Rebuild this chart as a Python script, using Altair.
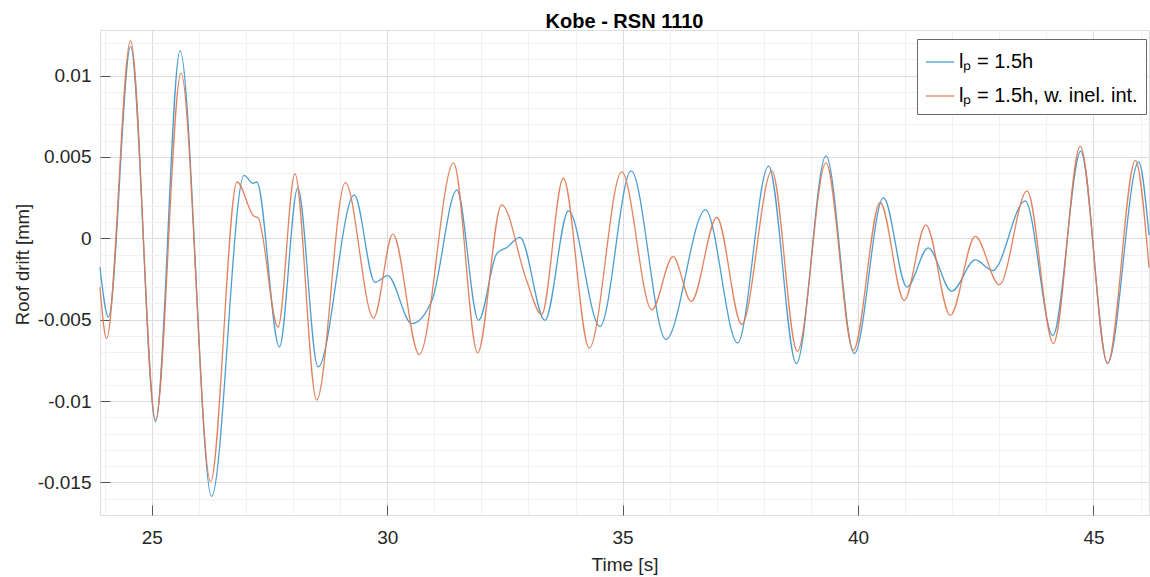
import altair as alt
import pandas as pd

# ---- data ----
series_names = ["lₚ = 1.5h", "lₚ = 1.5h, w. inel. int."]

blue_t = [23.90, 24.08, 24.55, 25.08, 25.60, 26.27, 26.96, 27.15, 27.23, 27.71,
          28.10, 28.53, 29.30, 29.74, 30.01, 30.52, 30.95, 31.48, 31.94, 32.33,
          32.54, 32.82, 33.35, 33.85, 34.52, 35.18, 35.92, 36.76, 37.44, 38.10,
          38.69, 39.32, 39.92, 40.54, 41.04, 41.49, 41.99, 42.49, 42.86, 43.55,
          44.14, 44.73, 45.30, 45.96, 46.18]
blue_y = [-0.00178, -0.00484, 0.01179, -0.01127, 0.01152, -0.01586, 0.00387, 0.00338, 0.00346, -0.00668,
          0.00308, -0.00790, 0.00267, -0.00270, -0.00229, -0.00524, -0.00382, 0.00296, -0.00504, -0.00092,
          -0.00056, 0.00006, -0.00504, 0.00169, -0.00541, 0.00414, -0.00621, 0.00175, -0.00643, 0.00444,
          -0.00769, 0.00506, -0.00708, 0.00250, -0.00300, -0.00059, -0.00325, -0.00133, -0.00198, 0.00230,
          -0.00596, 0.00536, -0.00769, 0.00469, 0.00020]

red_t = [23.90, 24.04, 24.55, 25.08, 25.62, 26.25, 26.81, 27.16, 27.26, 27.68,
         28.04, 28.50, 29.11, 29.71, 30.12, 30.68, 31.41, 31.92, 32.43, 32.96,
         33.28, 33.74, 34.29, 34.98, 35.62, 36.07, 36.46, 37.00, 37.53, 38.17,
         38.71, 39.32, 39.90, 40.47, 40.98, 41.44, 41.96, 42.49, 43.00, 43.59,
         44.15, 44.72, 45.30, 45.89, 46.18]
red_y = [-0.00300, -0.00616, 0.01214, -0.01116, 0.01015, -0.01494, 0.00346, 0.00138, 0.00124, -0.00545,
         0.00397, -0.00994, 0.00342, -0.00490, 0.00026, -0.00714, 0.00464, -0.00704, 0.00206, -0.00259,
         -0.00468, 0.00369, -0.00674, 0.00408, -0.00439, -0.00113, -0.00388, 0.00128, -0.00529, 0.00414,
         -0.00694, 0.00464, -0.00688, 0.00220, -0.00382, 0.00083, -0.00474, 0.00012, -0.00286, 0.00291,
         -0.00647, 0.00567, -0.00769, 0.00479, -0.00180]

x_major = [25, 30, 35, 40, 45]
y_major = [-0.015, -0.01, -0.005, 0, 0.005, 0.01]
x_minor = [24, 25, 26, 27, 28, 29, 30, 31, 32, 33, 34, 35, 36, 37, 38, 39, 40,
           41, 42, 43, 44, 45, 46]
y_minor = [-0.016, -0.015, -0.014, -0.013, -0.012, -0.011, -0.01, -0.009,
           -0.008, -0.007, -0.006, -0.005, -0.004, -0.003, -0.002, -0.001, 0,
           0.001, 0.002, 0.003, 0.004, 0.005, 0.006, 0.007, 0.008, 0.009, 0.01,
           0.011, 0.012]

colors = ["#3D95CE", "#E07850"]

df = pd.concat([
    pd.DataFrame({"t": blue_t, "y": blue_y, "series": series_names[0], "order": range(len(blue_t))}),
    pd.DataFrame({"t": red_t, "y": red_y, "series": series_names[1], "order": range(len(red_t))}),
], ignore_index=True)

FONT = "Liberation Sans"
TXT = "#262626"

xscale = alt.Scale(domain=[23.90, 46.18], nice=False, zero=False)
yscale = alt.Scale(domain=[-0.0170, 0.0128], nice=False, zero=False)

base = alt.Chart(df)

# minor grid
minor = base.mark_line(opacity=0).encode(
    x=alt.X("t:Q", scale=xscale, axis=alt.Axis(
        orient="bottom", values=x_minor, grid=True, gridColor="#F1F1F1", gridWidth=1,
        labels=False, ticks=False, tickSize=0, domain=False, title=None)),
    y=alt.Y("y:Q", scale=yscale, axis=alt.Axis(
        orient="left", values=y_minor, grid=True, gridColor="#F1F1F1", gridWidth=1,
        labels=False, ticks=False, tickSize=0, domain=False, title=None)),
    detail="series:N",
)

# major grid, labels, titles
major = base.mark_line(opacity=0).encode(
    x=alt.X("t:Q", scale=xscale, axis=alt.Axis(
        orient="bottom", values=x_major, grid=True, gridColor="#DCDCDC", gridWidth=1,
        labels=True, ticks=False, tickSize=0, domain=False,
        labelFont=FONT, labelFontSize=19, labelColor=TXT, labelPadding=13,
        title="Time [s]", titleFont=FONT, titleFontSize=19, titleFontWeight="normal",
        titleColor=TXT, titleY=40, titleBaseline="top")),
    y=alt.Y("y:Q", scale=yscale, axis=alt.Axis(
        orient="left", values=y_major, grid=True, gridColor="#DCDCDC", gridWidth=1,
        labels=True, ticks=False, tickSize=0, domain=False,
        labelExpr="toString(round(datum.value*1000)/1000)",
        labelFont=FONT, labelFontSize=19, labelColor=TXT, labelPadding=9,
        title="Roof drift [mm]", titleFont=FONT, titleFontSize=18.5, titleFontWeight="normal",
        titleColor=TXT, titleX=-78, titleY=234, titleAngle=270, titleBaseline="middle")),
    detail="series:N",
)

# inward ticks
ticks = base.mark_line(opacity=0).encode(
    x=alt.X("t:Q", scale=xscale, axis=alt.Axis(
        orient="bottom", values=x_major, grid=False, labels=False, ticks=True,
        tickSize=10, tickColor="#555555", tickWidth=1, offset=-10, domain=False, title=None)),
    y=alt.Y("y:Q", scale=yscale, axis=alt.Axis(
        orient="left", values=y_major, grid=False, labels=False, ticks=True,
        tickSize=10, tickColor="#555555", tickWidth=1, offset=-10, domain=False, title=None)),
    detail="series:N",
)

lines = base.mark_line(strokeWidth=1.3, interpolate="monotone", opacity=0.92).encode(
    x=alt.X("t:Q", scale=xscale, axis=None),
    y=alt.Y("y:Q", scale=yscale, axis=None),
    order="order:Q",
    color=alt.Color("series:N",
                    scale=alt.Scale(domain=series_names, range=colors),
                    legend=alt.Legend(
                        title=None, orient="none", legendX=817, legendY=9,
                        symbolType="stroke", symbolSize=784, symbolStrokeWidth=1.3,
                        labelFont=FONT, labelFontSize=20, labelColor="#000000",
                        labelLimit=400, labelOffset=4,
                        rowPadding=9, padding=8,
                        strokeColor="#6A6A6A", fillColor="#FFFFFF",
                        cornerRadius=0)),
)

chart = alt.layer(minor, major, ticks, lines).resolve_axis(
    x="independent", y="independent"
).properties(
    width=1049,
    height=485,
    title=alt.TitleParams(text="Kobe - RSN 1110", font=FONT, fontSize=20, fontWeight="bold",
                          color="#000000", anchor="middle", frame="group",
                          baseline="alphabetic", offset=5, dy=23),
    autosize=alt.AutoSizeParams(type="none"),
    padding={"left": 100, "top": 30, "right": 1, "bottom": 62},
).configure_view(
    stroke="#5A5A5A", strokeWidth=1
).configure(background="#FFFFFF")

chart.save("out.html", embed_options={"renderer": "svg", "actions": False})
